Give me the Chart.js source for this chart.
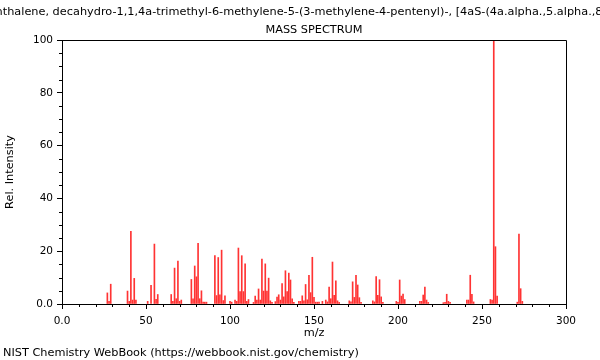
<!DOCTYPE html>
<html>
<head>
<meta charset="utf-8">
<script src="https://cdn.jsdelivr.net/npm/chart.js@4.4.0/dist/chart.umd.min.js"></script>
<style>
html,body{margin:0;padding:0;background:#fff;}
canvas{display:block;}
</style>
</head>
<body>
<canvas id="c" width="600" height="360"></canvas>
<script>
const titleText = "Naphthalene, decahydro-1,1,4a-trimethyl-6-methylene-5-(3-methylene-4-pentenyl)-, [4aS-(4a.alpha.,5.alpha.,8a.beta.)]-";
const subTitle = "MASS SPECTRUM";
const xLabel = "m/z";
const yLabel = "Rel. Intensity";
const footer = "NIST Chemistry WebBook (https://webbook.nist.gov/chemistry)";

const mz = [27,28,29,39,40,41,42,43,44,51,53,55,56,57,65,66,67,68,69,70,71,77,78,79,80,81,82,83,84,85,86,
  91,92,93,94,95,96,97,100,101,103,104,105,106,107,108,109,110,111,114,115,116,117,118,119,120,121,122,123,124,125,
  127,128,129,130,131,132,133,134,135,136,137,138,141,142,143,144,145,146,147,148,149,150,151,152,153,155,157,158,159,160,
  161,162,163,164,165,171,172,173,174,175,176,177,178,185,186,187,188,189,190,191,199,200,201,202,203,204,
  213,214,215,216,217,218,227,228,229,230,231,241,242,243,244,245,255,256,257,258,259,271,272,273,274];
const intensity = [4.2,1.0,7.5,4.9,1.0,27.5,1.5,9.7,1.5,1.0,7.1,22.7,1.8,3.6,3.6,1.0,13.6,2.0,16.3,1.0,1.5,9.3,2.0,14.4,10.3,23.0,2.0,5.0,0.7,0.7,0.7,
  18.3,3.2,17.6,3.5,20.4,1.3,3.1,1.0,0.7,1.5,1.0,21.2,4.7,18.3,4.7,15.2,1.0,1.7,0.6,3.0,1.5,5.7,1.5,17.0,4.9,15.2,4.9,9.8,1.2,0.6,
  0.9,2.6,3.5,1.5,7.7,2.7,12.6,4.7,11.7,9.1,2.0,0.6,1.0,1.0,3.1,1.2,7.4,1.6,10.9,4.3,17.7,2.5,0.7,0.7,0.7,1.0,1.5,0.8,6.4,2.0,
  15.9,3.3,8.8,1.2,0.6,1.2,0.8,8.4,2.5,10.9,7.2,2.4,0.6,1.2,0.8,10.4,3.3,9.2,2.7,0.6,1.0,0.6,9.1,3.0,3.8,1.7,
  1.0,1.0,3.4,6.4,1.5,0.6,0.5,0.6,3.7,1.0,0.6,1.5,1.5,10.9,3.7,0.8,1.7,1.5,100,21.7,3.0,0.7,26.5,5.8,1.0];

const xTicksMajor = [0,50,100,150,200,250,300];
const yTicksMajor = [0,20,40,60,80,100];

const FONT = "'DejaVu Sans', sans-serif";

const extras = {
  id: 'extras',
  afterDraw(chart) {
    const ctx = chart.ctx;
    const a = chart.chartArea;
    const xs = chart.scales.x, ys = chart.scales.y;
    ctx.save();
    ctx.strokeStyle = '#000';
    ctx.lineWidth = 1;
    ctx.beginPath();
    ctx.moveTo(Math.round(a.left) + 0.5, Math.round(a.top) + 0.5);
    ctx.lineTo(Math.round(a.right) + 0.5, Math.round(a.top) + 0.5);
    ctx.lineTo(Math.round(a.right) + 0.5, Math.round(a.bottom) + 0.5);
    ctx.stroke();
    ctx.beginPath();
    for (let v = 10; v < 300; v += 10) {
      if (v % 50 === 0) continue;
      const px = Math.round(xs.getPixelForValue(v)) + 0.5;
      ctx.moveTo(px, a.bottom);
      ctx.lineTo(px, a.bottom + 3);
    }
    for (let v = 5; v < 100; v += 5) {
      if (v % 20 === 0) continue;
      const py = Math.round(ys.getPixelForValue(v)) + 0.5;
      ctx.moveTo(a.left, py);
      ctx.lineTo(a.left - 3, py);
    }
    ctx.stroke();
    ctx.fillStyle = '#000';
    ctx.font = '11.3px ' + FONT;
    ctx.textBaseline = 'middle';
    ctx.textAlign = 'center';
    const cx = (a.left + a.right) / 2;
    ctx.fillText(titleText, cx, 12);
    ctx.fillText(subTitle, cx, 30);
    ctx.fillText(xLabel, cx, 333);
    ctx.textAlign = 'left';
    ctx.fillText(footer, 3, 353);
    ctx.translate(10, (a.top + a.bottom) / 2);
    ctx.rotate(-Math.PI / 2);
    ctx.textAlign = 'center';
    ctx.fillText(yLabel, 0, 0);
    ctx.restore();
  }
};

new Chart(document.getElementById('c'), {
  type: 'bar',
  data: {
    datasets: [{
      data: mz.map((m, i) => ({ x: m, y: intensity[i] })),
      backgroundColor: '#ff3333',
      borderWidth: 0,
      barThickness: 1
    }]
  },
  options: {
    responsive: false,
    devicePixelRatio: 1,
    animation: false,
    layout: { padding: { top: 40, right: 34, left: 0, bottom: 0 } },
    plugins: { legend: { display: false }, tooltip: { enabled: false }, title: { display: false } },
    scales: {
      x: {
        type: 'linear',
        min: 0, max: 300,
        offset: false,
        afterBuildTicks: s => { s.ticks = xTicksMajor.map(v => ({ value: v })); },
        afterFit: s => { s.height = 56; },
        ticks: {
          color: '#000', padding: 6, maxRotation: 0,
          font: { family: FONT, size: 10.5 },
          callback: v => v === 0 ? '0.0' : String(v)
        },
        grid: { drawOnChartArea: false, offset: false, tickLength: 5, color: '#000' },
        border: { color: '#000' }
      },
      y: {
        min: 0, max: 100,
        afterBuildTicks: s => { s.ticks = yTicksMajor.map(v => ({ value: v })); },
        afterFit: s => { s.width = 62; },
        ticks: {
          color: '#000', padding: 4,
          font: { family: FONT, size: 10.5 },
          callback: v => v === 0 ? '0.0' : String(v)
        },
        grid: { drawOnChartArea: false, tickLength: 5, color: '#000' },
        border: { color: '#000' }
      }
    }
  },
  plugins: [extras]
});
</script>
</body>
</html>
